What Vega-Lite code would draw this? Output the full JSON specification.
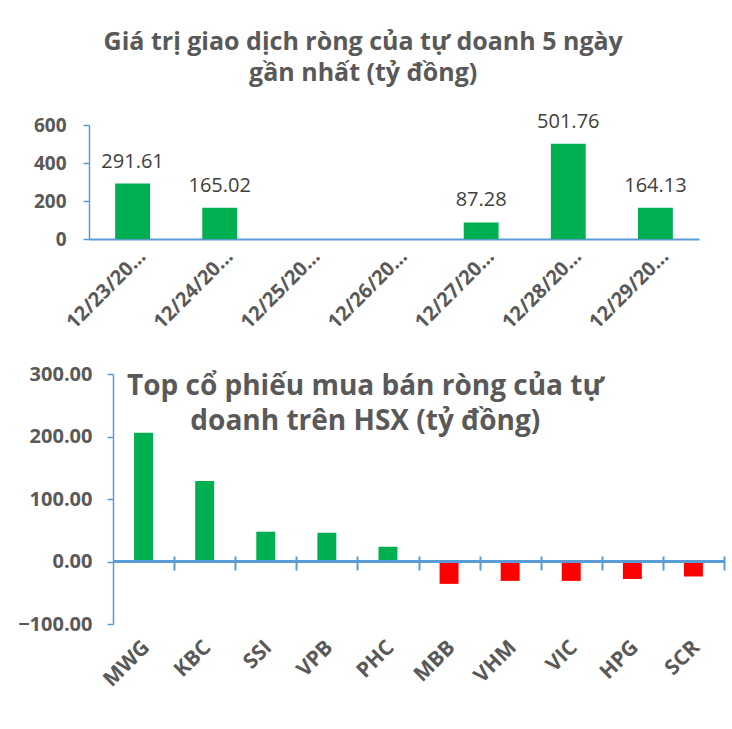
{
  "$schema": "https://vega.github.io/schema/vega-lite/v6.json",
  "background": "white",
  "padding": {"left": 17, "top": 29, "right": 5, "bottom": 5},
  "spacing": 31,
  "config": {
    "view": {"stroke": null},
    "font": "Open Sans",
    "axis": {"grid": false, "domainColor": "#5B9BD5", "tickColor": "#5B9BD5", "labelColor": "#595959", "labelFontWeight": "bold"}
  },
  "vconcat": [
    {
      "title": {"text": ["Giá trị giao dịch ròng của tự doanh 5 ngày", "gần nhất (tỷ đồng)"], "fontSize": 25, "fontWeight": "bold", "color": "#595959", "lineHeight": 31, "anchor": "middle", "frame": "bounds", "offset": 26, "dx": -15},
      "width": 586,
      "height": 114,
      "data": {"values": [
        {"date": "12/23/2021", "value": 291.61},
        {"date": "12/24/2021", "value": 165.02},
        {"date": "12/25/2021", "value": 0},
        {"date": "12/26/2021", "value": 0},
        {"date": "12/27/2021", "value": 87.28},
        {"date": "12/28/2021", "value": 501.76},
        {"date": "12/29/2021", "value": 164.13}
      ]},
      "encoding": {
        "x": {"field": "date", "type": "nominal", "sort": null, "title": null,
          "scale": {"range": [-24, 586], "paddingInner": 0.6, "paddingOuter": 0.3},
          "axis": {"labelAngle": -45, "labelAlign": "right", "labelBaseline": "middle", "labelFontSize": 20, "labelPadding": 14, "labelOffset": 10, "ticks": false, "domainWidth": 2, "labelExpr": "slice(datum.label, 0, 8) + '...'"}},
        "y": {"field": "value", "type": "quantitative", "title": null,
          "scale": {"domain": [0, 600]},
          "axis": {"values": [0, 200, 400, 600], "offset": 24, "labelFontSize": 19, "labelPadding": 17, "tickSize": 6, "domainWidth": 1.5, "tickWidth": 1.5}}
      },
      "layer": [
        {"mark": {"type": "bar", "color": "#00B050"}},
        {"transform": [{"filter": "datum.value != 0"}],
         "mark": {"type": "text", "baseline": "bottom", "dy": -12, "fontSize": 20, "color": "#404040"},
         "encoding": {"text": {"field": "value", "type": "quantitative", "format": ".2f"}}}
      ]
    },
    {
      "title": {"text": ["Top cổ phiếu mua bán ròng của tự", "doanh trên HSX (tỷ đồng)"], "fontSize": 28, "fontWeight": "bold", "color": "#595959", "lineHeight": 35, "anchor": "middle", "frame": "bounds", "offset": -72, "dx": -6},
      "width": 611,
      "height": 250,
      "data": {"values": [
        {"ticker": "MWG", "value": 206},
        {"ticker": "KBC", "value": 129},
        {"ticker": "SSI", "value": 47.7},
        {"ticker": "VPB", "value": 46},
        {"ticker": "PHC", "value": 23.6},
        {"ticker": "MBB", "value": -35.8},
        {"ticker": "VHM", "value": -31},
        {"ticker": "VIC", "value": -31},
        {"ticker": "HPG", "value": -28},
        {"ticker": "SCR", "value": -24}
      ]},
      "resolve": {"axis": {"x": "independent"}},
      "layer": [
        {
          "mark": {"type": "bar"},
          "encoding": {
            "x": {"field": "ticker", "type": "nominal", "sort": null, "title": null,
              "scale": {"paddingInner": 0.69, "paddingOuter": 0.345},
              "axis": {"labelAngle": -45, "labelAlign": "right", "labelBaseline": "middle", "labelFontSize": 21, "labelPadding": 20, "labelOffset": 3, "ticks": false, "domain": false}},
            "y": {"field": "value", "type": "quantitative", "title": null,
              "scale": {"domain": [-100, 300]},
              "axis": {"values": [-100, 0, 100, 200, 300], "format": ".2f", "labelFontSize": 20, "labelPadding": 15, "tickSize": 6, "domainWidth": 1.5, "tickWidth": 1.5}},
            "color": {"condition": {"test": "datum.value > 0", "value": "#00B050"}, "value": "#FF0000"}
          }
        },
        {
          "mark": {"type": "rule", "color": "#5B9BD5", "strokeWidth": 2},
          "encoding": {"y": {"datum": 0, "type": "quantitative"}}
        },
        {
          "mark": {"type": "bar", "opacity": 0},
          "encoding": {
            "x": {"field": "ticker", "type": "nominal", "sort": null, "title": null,
              "axis": {"orient": "bottom", "offset": -68, "labels": false, "domain": false, "ticks": true, "tickOffset": 30.55, "tickSize": 14, "tickWidth": 2}},
            "y": {"datum": 0, "type": "quantitative"}
          }
        }
      ]
    }
  ]
}
